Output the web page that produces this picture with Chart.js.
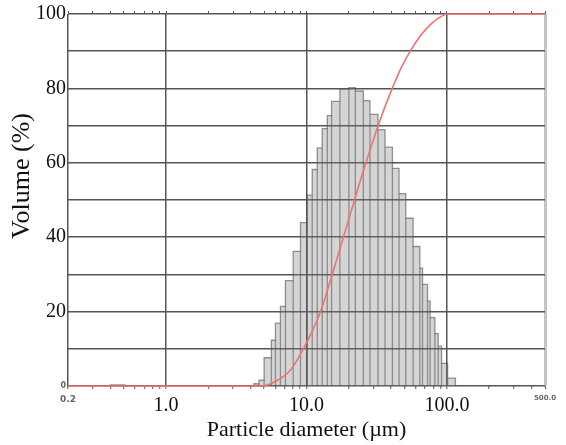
<!DOCTYPE html>
<html>
<head>
<meta charset="utf-8">
<script src="https://cdn.jsdelivr.net/npm/chart.js@4/dist/chart.umd.min.js"></script>
<style>
  body { margin: 0; background: #fff; }
  canvas { display: block; }
</style>
</head>
<body>
<canvas id="psd" width="566" height="445"></canvas>
<script>
// Histogram bins: edges in µm (one more than volumes), volume in %
const binEdges = [0.40, 0.51, 4.22, 4.59, 4.99, 5.62, 6.01, 6.52, 7.08, 8.04, 9.06, 10.12,
  10.98, 11.93, 12.94, 14.06, 15.09, 17.29, 20.05, 22.28, 25.41, 28.32, 32.30, 36.25,
  40.94, 45.63, 50.95, 57.45, 64.15, 67.06, 72.80, 75.98, 82.12, 86.69, 91.65, 101.2, 115.0];
const binVolumes = [0.3, 0, 0.6, 1.6, 7.6, 12.3, 16.9, 21.4, 28.3, 36.2, 43.9, 51.3,
  58.2, 64.0, 69.2, 72.7, 76.5, 79.9, 80.2, 79.3, 76.7, 73.0, 68.9, 64.2,
  58.5, 51.7, 45.1, 37.5, 31.7, 27.3, 22.8, 18.4, 14.1, 10.7, 6.1, 2.1];

// Cumulative curve
const cumSizes = [0.2, 4.85, 6.0, 7.69, 10.12, 12.59, 14.84, 17.50, 20.62, 24.30, 28.65,
  33.78, 39.81, 46.94, 55.34, 65.22, 76.89, 90.61, 100, 500];
const cumValues = [0, 0, 1.2, 4.3, 12.0, 20.0, 28.5, 37.5, 46.5, 55.5, 64.0,
  72.0, 79.0, 85.3, 90.3, 94.3, 97.3, 99.3, 100, 100];

// Axis ticks
const xTickValues = [0.2, 0.3, 0.4, 0.5, 0.6, 0.7, 0.8, 0.9, 1, 2, 3, 4, 5, 6, 7, 8, 9,
  10, 20, 30, 40, 50, 60, 70, 80, 90, 100, 200, 300, 400, 500];
const xTickLabels = { 0.2: '0.2', 1: '1.0', 10: '10.0', 100: '100.0', 500: '500.0' };
const xMajor = [0.2, 1, 10, 100];
const yLabelled = [0, 20, 40, 60, 80, 100];

const GRID = '#555';
const SERIF = 'Liberation Serif';

// histogram outline (stepped) and the dividers between bars
const stepPoints = [{ x: binEdges[0], y: 0 }];
binVolumes.forEach((v, i) => stepPoints.push({ x: binEdges[i], y: v }));
stepPoints.push({ x: binEdges[binEdges.length - 1], y: 0 });

const dividerPoints = [];
for (let i = 1; i < binVolumes.length; i++) {
  const h = Math.min(binVolumes[i - 1], binVolumes[i]);
  if (h <= 0) continue;
  dividerPoints.push({ x: binEdges[i], y: 0 }, { x: binEdges[i], y: h }, { x: binEdges[i], y: null });
}

const cumPoints = cumSizes.map((s, i) => ({ x: s, y: cumValues[i] }));

function setXTicks(scale) {
  scale.ticks = xTickValues.map(v => ({ value: v }));
}
// tick value from a scriptable context (undefined outside tick contexts)
const tv = c => (c && c.tick) ? c.tick.value : null;

// y title sits a bit above the middle of the plot in the original
const yTitle = {
  id: 'yTitle',
  afterDraw(chart) {
    const ctx = chart.ctx;
    ctx.save();
    ctx.translate(22, 176);
    ctx.rotate(-Math.PI / 2);
    ctx.textAlign = 'center';
    ctx.textBaseline = 'middle';
    ctx.fillStyle = '#111';
    ctx.font = '26px "Liberation Serif"';
    ctx.fillText('Volume (%)', 0, 0);
    ctx.restore();
  }
};

new Chart(document.getElementById('psd'), {
  type: 'scatter',
  data: {
    datasets: [
      {
        data: cumPoints,
        showLine: true,
        borderColor: '#f07272',
        borderWidth: 1.6,
        pointRadius: 0,
        cubicInterpolationMode: 'monotone',
        clip: 4,
        order: 0
      },
      {
        data: dividerPoints,
        showLine: true,
        spanGaps: false,
        borderColor: 'rgba(80,80,80,0.55)',
        borderWidth: 1.3,
        pointRadius: 0,
        order: 1
      },
      {
        data: stepPoints,
        showLine: true,
        stepped: 'before',
        fill: 'origin',
        backgroundColor: 'rgba(128,128,128,0.33)',
        borderColor: 'rgba(80,80,80,0.6)',
        borderWidth: 1.3,
        pointRadius: 0,
        order: 2
      }
    ]
  },
  options: {
    responsive: false,
    animation: false,
    devicePixelRatio: 1,
    layout: { padding: { top: 0, right: 21, bottom: 0, left: 0 } },
    plugins: { legend: { display: false }, tooltip: { enabled: false } },
    scales: {
      x: {
        type: 'logarithmic',
        position: 'bottom',
        min: 0.2,
        max: 500,
        afterBuildTicks: setXTicks,
        afterFit: s => { s.height = 59; },
        border: { display: false },
        grid: {
          color: c => xMajor.includes(tv(c)) ? GRID : (tv(c) === 500 ? '#c4c4c4' : 'rgba(0,0,0,0)'),
          lineWidth: c => tv(c) === 500 ? 3 : 1.5,
          tickColor: GRID,
          tickLength: 3,
          tickWidth: 1
        },
        ticks: {
          autoSkip: false,
          maxRotation: 0,
          padding: 5,
          callback: v => xTickLabels[v] || '',
          color: c => (tv(c) === 0.2 || tv(c) === 500) ? '#666' : '#111',
          font: c => tv(c) === 0.2 ? { family: 'DejaVu Sans', size: 9, weight: 'bold' }
            : (tv(c) === 500 ? { family: 'DejaVu Sans', size: 7, weight: 'bold' }
            : { family: SERIF, size: 20 })
        },
        title: {
          display: true,
          text: 'Particle diameter (µm)',
          color: '#111',
          font: { family: SERIF, size: 22 },
          padding: { top: 0, bottom: 2 }
        }
      },
      x2: {
        type: 'logarithmic',
        position: 'top',
        min: 0.2,
        max: 500,
        afterBuildTicks: setXTicks,
        afterFit: s => { s.height = 12; },
        border: { display: false },
        grid: { drawOnChartArea: false, tickColor: GRID, tickLength: 3, tickWidth: 1 },
        ticks: { display: false }
      },
      y: {
        min: 0,
        max: 100,
        afterFit: s => { s.width = 68; },
        border: { display: false },
        grid: { color: GRID, lineWidth: 1.5, drawTicks: false },
        ticks: {
          stepSize: 10,
          padding: 2,
          callback: v => yLabelled.includes(v) ? String(v) : '',
          color: c => tv(c) === 0 ? '#666' : '#111',
          font: c => tv(c) === 0 ? { family: 'DejaVu Sans', size: 8, weight: 'bold' }
            : { family: SERIF, size: 20 }
        },
        title: { display: false }
      }
    }
  },
  plugins: [yTitle]
});
</script>
</body>
</html>
